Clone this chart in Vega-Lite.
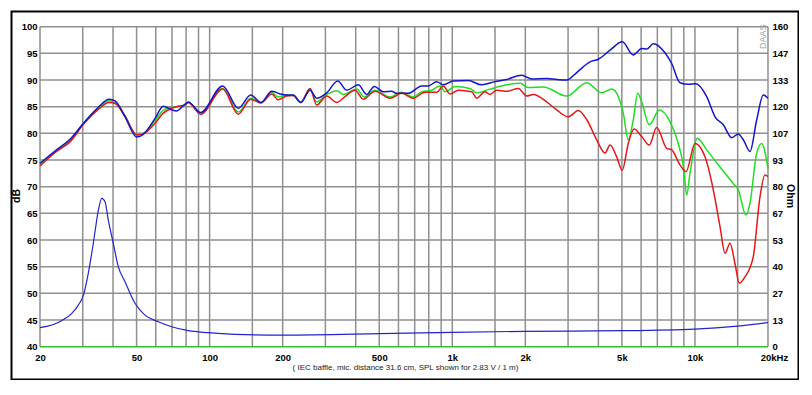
{
"$schema":"https://vega.github.io/schema/vega-lite/v6.json",
"width":787,"height":368,
"autosize":{"type":"none"},
"padding":{"left":11.5,"top":11.5,"right":0,"bottom":0},
"background":"white",
"config":{"view":{"stroke":"#000000","strokeWidth":2},"font":"Liberation Sans","axis":{"grid":false,"domain":false,"ticks":false}},
"datasets":{
"spl":[
{"s":"green","f":20,"db":74.2},{"s":"green","f":23.4,"db":76.7},{"s":"green","f":26.6,"db":78.6},{"s":"green","f":30.2,"db":81.9},{"s":"green","f":34.8,"db":84.7},{"s":"green","f":38.5,"db":86.1},{"s":"green","f":40.8,"db":85.8},{"s":"green","f":44.8,"db":83.3},{"s":"green","f":50.1,"db":79.7},{"s":"green","f":53.3,"db":80.0},{"s":"green","f":59.6,"db":82.4},{"s":"green","f":64.4,"db":84.3},{"s":"green","f":69.8,"db":84.9},{"s":"green","f":73.2,"db":85.0},{"s":"green","f":79.2,"db":85.4},{"s":"green","f":81.7,"db":85.8},{"s":"green","f":91.9,"db":83.8},{"s":"green","f":113.2,"db":88.4},{"s":"green","f":131.3,"db":84.0},{"s":"green","f":147.7,"db":86.6},{"s":"green","f":162.8,"db":85.8},{"s":"green","f":180.3,"db":87.7},{"s":"green","f":191.4,"db":86.8},{"s":"green","f":207.8,"db":87.2},{"s":"green","f":221.2,"db":87.1},{"s":"green","f":237.4,"db":85.8},{"s":"green","f":259.3,"db":88.3},{"s":"green","f":276.2,"db":85.9},{"s":"green","f":303.8,"db":87.3},{"s":"green","f":335,"db":88.0},{"s":"green","f":355.6,"db":87.3},{"s":"green","f":403.8,"db":88.3},{"s":"green","f":434,"db":86.8},{"s":"green","f":480.4,"db":88.1},{"s":"green","f":553.8,"db":86.8},{"s":"green","f":618.8,"db":87.7},{"s":"green","f":690.8,"db":86.8},{"s":"green","f":748.2,"db":87.8},{"s":"green","f":822.6,"db":88.1},{"s":"green","f":890,"db":88.9},{"s":"green","f":933.2,"db":87.8},{"s":"green","f":1026,"db":88.8},{"s":"green","f":1183,"db":88.4},{"s":"green","f":1261,"db":87.6},{"s":"green","f":1430,"db":88.3},{"s":"green","f":1676,"db":89.1},{"s":"green","f":1901,"db":89.4},{"s":"green","f":2056,"db":88.6},{"s":"green","f":2372,"db":88.7},{"s":"green","f":2962,"db":87.0},{"s":"green","f":3580,"db":89.5},{"s":"green","f":4128,"db":87.6},{"s":"green","f":4540,"db":88.3},{"s":"green","f":4760,"db":87.5},{"s":"green","f":5066,"db":83.8},{"s":"green","f":5312,"db":78.8},{"s":"green","f":5570,"db":82.5},{"s":"green","f":5808,"db":87.5},{"s":"green","f":6032,"db":85.9},{"s":"green","f":6484,"db":81.6},{"s":"green","f":7130,"db":84.4},{"s":"green","f":7892,"db":82.2},{"s":"green","f":8538,"db":78.1},{"s":"green","f":9012,"db":73.1},{"s":"green","f":9246,"db":68.4},{"s":"green","f":9540,"db":72.5},{"s":"green","f":10228,"db":79.1},{"s":"green","f":11180,"db":76.9},{"s":"green","f":12686,"db":73.7},{"s":"green","f":14390,"db":70.6},{"s":"green","f":15088,"db":69.4},{"s":"green","f":16230,"db":64.7},{"s":"green","f":16860,"db":66.9},{"s":"green","f":17966,"db":76.3},{"s":"green","f":18838,"db":78.1},{"s":"green","f":20000,"db":73.4},
{"s":"red","f":20,"db":73.9},{"s":"red","f":23.4,"db":76.6},{"s":"red","f":26.6,"db":78.4},{"s":"red","f":30.2,"db":81.7},{"s":"red","f":34.8,"db":84.5},{"s":"red","f":38.5,"db":85.8},{"s":"red","f":40.8,"db":85.6},{"s":"red","f":44.8,"db":83.2},{"s":"red","f":50.1,"db":79.7},{"s":"red","f":53.3,"db":79.9},{"s":"red","f":59.6,"db":81.9},{"s":"red","f":64.4,"db":83.8},{"s":"red","f":69.8,"db":84.7},{"s":"red","f":73.2,"db":85.0},{"s":"red","f":79.2,"db":85.3},{"s":"red","f":81.7,"db":85.8},{"s":"red","f":91.9,"db":83.6},{"s":"red","f":113.2,"db":88.3},{"s":"red","f":131.3,"db":83.6},{"s":"red","f":147.7,"db":86.4},{"s":"red","f":162.8,"db":85.7},{"s":"red","f":180.3,"db":87.4},{"s":"red","f":191.4,"db":86.3},{"s":"red","f":207.8,"db":87.0},{"s":"red","f":221.2,"db":87.1},{"s":"red","f":237.4,"db":85.8},{"s":"red","f":259.3,"db":88.4},{"s":"red","f":276.2,"db":85.3},{"s":"red","f":303.8,"db":87.0},{"s":"red","f":334,"db":85.8},{"s":"red","f":361.4,"db":86.9},{"s":"red","f":397.3,"db":88.1},{"s":"red","f":429.8,"db":86.4},{"s":"red","f":480.4,"db":87.9},{"s":"red","f":553.8,"db":86.6},{"s":"red","f":618.8,"db":87.5},{"s":"red","f":690.8,"db":86.6},{"s":"red","f":772,"db":87.7},{"s":"red","f":862.6,"db":87.7},{"s":"red","f":918.2,"db":88.9},{"s":"red","f":978.4,"db":87.4},{"s":"red","f":1058.6,"db":88.1},{"s":"red","f":1202,"db":87.8},{"s":"red","f":1261,"db":86.6},{"s":"red","f":1364,"db":87.8},{"s":"red","f":1430,"db":87.3},{"s":"red","f":1524,"db":88.1},{"s":"red","f":1676,"db":87.9},{"s":"red","f":1871,"db":88.4},{"s":"red","f":2026,"db":87.0},{"s":"red","f":2157,"db":87.3},{"s":"red","f":2449,"db":85.9},{"s":"red","f":2694,"db":84.4},{"s":"red","f":3008,"db":83.1},{"s":"red","f":3306,"db":84.3},{"s":"red","f":3580,"db":82.6},{"s":"red","f":3937,"db":78.8},{"s":"red","f":4260,"db":76.3},{"s":"red","f":4468,"db":77.8},{"s":"red","f":4760,"db":75.6},{"s":"red","f":5018,"db":73.1},{"s":"red","f":5312,"db":78.1},{"s":"red","f":5608,"db":80.8},{"s":"red","f":6032,"db":79.4},{"s":"red","f":6484,"db":77.8},{"s":"red","f":6956,"db":81.1},{"s":"red","f":7648,"db":77.2},{"s":"red","f":8020,"db":76.9},{"s":"red","f":8676,"db":74.1},{"s":"red","f":9186,"db":72.8},{"s":"red","f":10006,"db":78.1},{"s":"red","f":11002,"db":75.6},{"s":"red","f":11904,"db":69.4},{"s":"red","f":12686,"db":62.5},{"s":"red","f":13302,"db":57.5},{"s":"red","f":13948,"db":59.4},{"s":"red","f":14622,"db":55.6},{"s":"red","f":15232,"db":51.9},{"s":"red","f":16078,"db":53.1},{"s":"red","f":17396,"db":56.9},{"s":"red","f":18536,"db":68.1},{"s":"red","f":19436,"db":72.2},{"s":"red","f":20000,"db":71.9},
{"s":"blue","f":20,"db":74.4},{"s":"blue","f":23.4,"db":76.9},{"s":"blue","f":26.6,"db":78.9},{"s":"blue","f":30.2,"db":81.9},{"s":"blue","f":34.8,"db":84.9},{"s":"blue","f":38.5,"db":86.4},{"s":"blue","f":40.8,"db":86.1},{"s":"blue","f":44.8,"db":83.1},{"s":"blue","f":50.1,"db":79.3},{"s":"blue","f":53.3,"db":79.8},{"s":"blue","f":59.6,"db":82.8},{"s":"blue","f":64.4,"db":85.1},{"s":"blue","f":69.8,"db":84.4},{"s":"blue","f":73.2,"db":84.2},{"s":"blue","f":79.2,"db":85.5},{"s":"blue","f":81.7,"db":85.9},{"s":"blue","f":91.9,"db":83.9},{"s":"blue","f":113.2,"db":88.9},{"s":"blue","f":131.3,"db":84.7},{"s":"blue","f":147.7,"db":87.2},{"s":"blue","f":162.8,"db":85.8},{"s":"blue","f":180.3,"db":87.9},{"s":"blue","f":195,"db":87.4},{"s":"blue","f":207.8,"db":87.2},{"s":"blue","f":221.2,"db":87.2},{"s":"blue","f":237.4,"db":85.8},{"s":"blue","f":259.3,"db":88.1},{"s":"blue","f":276.2,"db":86.6},{"s":"blue","f":303.8,"db":87.6},{"s":"blue","f":337.3,"db":89.8},{"s":"blue","f":367.2,"db":88.1},{"s":"blue","f":410,"db":89.1},{"s":"blue","f":444,"db":87.3},{"s":"blue","f":477.2,"db":88.8},{"s":"blue","f":519.6,"db":87.8},{"s":"blue","f":562.8,"db":87.9},{"s":"blue","f":590.2,"db":87.5},{"s":"blue","f":658.8,"db":87.5},{"s":"blue","f":748.2,"db":88.9},{"s":"blue","f":796.4,"db":88.9},{"s":"blue","f":862.6,"db":89.7},{"s":"blue","f":918.2,"db":89.1},{"s":"blue","f":1009.6,"db":89.8},{"s":"blue","f":1164,"db":89.9},{"s":"blue","f":1322,"db":89.1},{"s":"blue","f":1500,"db":89.7},{"s":"blue","f":1676,"db":90.1},{"s":"blue","f":1932,"db":90.9},{"s":"blue","f":2124,"db":90.2},{"s":"blue","f":2449,"db":90.3},{"s":"blue","f":2694,"db":90.1},{"s":"blue","f":2962,"db":90.0},{"s":"blue","f":3256,"db":91.4},{"s":"blue","f":3694,"db":93.4},{"s":"blue","f":3996,"db":93.9},{"s":"blue","f":4468,"db":95.6},{"s":"blue","f":5018,"db":97.2},{"s":"blue","f":5570,"db":94.7},{"s":"blue","f":6032,"db":95.9},{"s":"blue","f":6326,"db":95.8},{"s":"blue","f":6736,"db":96.8},{"s":"blue","f":7526,"db":95.1},{"s":"blue","f":8020,"db":93.1},{"s":"blue","f":8676,"db":89.5},{"s":"blue","f":9386,"db":89.2},{"s":"blue","f":10074,"db":89.3},{"s":"blue","f":11180,"db":86.9},{"s":"blue","f":12098,"db":83.1},{"s":"blue","f":13090,"db":81.6},{"s":"blue","f":14174,"db":79.2},{"s":"blue","f":15088,"db":79.9},{"s":"blue","f":15822,"db":78.8},{"s":"blue","f":16860,"db":76.6},{"s":"blue","f":17966,"db":82.5},{"s":"blue","f":19126,"db":87.2},{"s":"blue","f":20000,"db":86.6}],
"imp":[{"f":20,"ohm":9.5},{"f":24.57,"ohm":13.0},{"f":27.04,"ohm":16.7},{"f":28.77,"ohm":20.8},{"f":30.2,"ohm":25.8},{"f":31.62,"ohm":36.7},{"f":33.17,"ohm":51.7},{"f":34.8,"ohm":68.3},{"f":35.93,"ohm":74.2},{"f":37.07,"ohm":72.5},{"f":38.24,"ohm":63.3},{"f":40.09,"ohm":51.7},{"f":42.04,"ohm":40},{"f":44.8,"ohm":32.5},{"f":49.26,"ohm":21.7},{"f":54.17,"ohm":15.8},{"f":61.43,"ohm":12.5},{"f":69.8,"ohm":10},{"f":81.7,"ohm":8},{"f":98.6,"ohm":7},{"f":127.2,"ohm":6.2},{"f":200,"ohm":5.8},{"f":500,"ohm":6.5},{"f":1000,"ohm":7.2},{"f":2000,"ohm":7.7},{"f":5000,"ohm":8},{"f":10000,"ohm":8.8},{"f":15000,"ohm":10.3},{"f":20000,"ohm":12}],
"vgrid":[{"f":20,"db":40,"db2":100},{"f":30,"db":40,"db2":100},{"f":40,"db":40,"db2":100},{"f":50,"db":40,"db2":100},{"f":60,"db":40,"db2":100},{"f":70,"db":40,"db2":100},{"f":80,"db":40,"db2":100},{"f":90,"db":40,"db2":100},{"f":100,"db":40,"db2":100},{"f":150,"db":40,"db2":100},{"f":200,"db":40,"db2":100},{"f":300,"db":40,"db2":100},{"f":400,"db":40,"db2":100},{"f":500,"db":40,"db2":100},{"f":600,"db":40,"db2":100},{"f":700,"db":40,"db2":100},{"f":800,"db":40,"db2":100},{"f":900,"db":40,"db2":100},{"f":1000,"db":40,"db2":100},{"f":1500,"db":40,"db2":100},{"f":2000,"db":40,"db2":100},{"f":3000,"db":40,"db2":100},{"f":4000,"db":40,"db2":100},{"f":5000,"db":40,"db2":100},{"f":6000,"db":40,"db2":100},{"f":7000,"db":40,"db2":100},{"f":8000,"db":40,"db2":100},{"f":9000,"db":40,"db2":100},{"f":10000,"db":40,"db2":100},{"f":15000,"db":40,"db2":100},{"f":20000,"db":40,"db2":100}],
"hgrid":[{"db":45,"f":20,"f2":20000},{"db":50,"f":20,"f2":20000},{"db":55,"f":20,"f2":20000},{"db":60,"f":20,"f2":20000},{"db":65,"f":20,"f2":20000},{"db":70,"f":20,"f2":20000},{"db":75,"f":20,"f2":20000},{"db":80,"f":20,"f2":20000},{"db":85,"f":20,"f2":20000},{"db":90,"f":20,"f2":20000},{"db":95,"f":20,"f2":20000},{"db":100,"f":20,"f2":20000}],
"base":[{"db":40,"f":20,"f2":20000}],
"mark":[{"db":98.1,"f":19074,"t":"DAAS"}]
},
"encoding":{
"x":{"field":"f","type":"quantitative","scale":{"type":"log","domain":[15.26,26716],"nice":false},
"axis":{"orient":"bottom","offset":-32.8,"values":[20,50,100,200,500,1000,2000,5000,10000,20000],
"labelExpr":"datum.value == 20000 ? '20kHz' : (datum.value >= 1000 ? (datum.value/1000) + 'k' : '' + datum.value)",
"labelFontWeight":"bold","labelFontSize":9.5,"labelColor":"#000000","labelPadding":6,"labelOverlap":false,"labelBound":false,"labelFlush":false,
"labelOffset":{"condition":{"test":"datum.value == 20000","value":6},"value":0},
"title":"( IEC baffle, mic. distance 31.6 cm, SPL shown for 2.83 V / 1 m)","titleFontSize":8,"titleFontWeight":"normal","titleColor":"#222222","titlePadding":1}}
},
"layer":[
{"encoding":{
"y":{"field":"db","type":"quantitative","scale":{"domain":[33.85,102.85],"nice":false,"zero":false},
"axis":{"orient":"left","offset":-28.5,"values":[40,45,50,55,60,65,70,75,80,85,90,95,100],"labelFontWeight":"bold","labelFontSize":9.5,"labelColor":"#000000","labelPadding":3,"labelOverlap":false,"labelBound":false,"labelFlush":false,
"title":"dB","titleFontSize":10.5,"titleFontWeight":"bold","titleColor":"#000000","titlePadding":0}}},
"layer":[
{"data":{"name":"vgrid"},"mark":{"type":"rule","color":"#8f8f8f","strokeWidth":1.5},"encoding":{"y2":{"field":"db2"}}},
{"data":{"name":"hgrid"},"mark":{"type":"rule","color":"#8f8f8f","strokeWidth":1.5},"encoding":{"x2":{"field":"f2"}}},
{"data":{"name":"base"},"mark":{"type":"rule","color":"#33bb33","strokeWidth":1.5},"encoding":{"x2":{"field":"f2"}}},
{"data":{"name":"spl"},"mark":{"type":"line","interpolate":"monotone","strokeWidth":1.5},
"encoding":{"color":{"field":"s","type":"nominal","scale":{"domain":["green","red","blue"],"range":["#22dd22","#e41818","#1414cc"]},"legend":null}}},
{"data":{"name":"mark"},"mark":{"type":"text","angle":270,"fontSize":9,"color":"#a0a0a0","align":"center","baseline":"middle"},
"encoding":{"text":{"field":"t"}}}
]},
{"data":{"name":"imp"},"mark":{"type":"line","interpolate":"monotone","color":"#2424c8","strokeWidth":1.2},
"encoding":{
"y":{"field":"ohm","type":"quantitative","scale":{"domain":[-16.4,167.6],"nice":false,"zero":false},
"axis":{"orient":"right","offset":-30.5,"values":[0,13.333,26.667,40,53.333,66.667,80,93.333,106.667,120,133.333,146.667,160],"format":".0f","labelFontWeight":"bold","labelFontSize":9.5,"labelColor":"#000000","labelPadding":4,"labelOverlap":false,"labelBound":false,"labelFlush":false,
"title":"Ohm","titleFontSize":10.5,"titleFontWeight":"bold","titleColor":"#000000","titlePadding":-3}}}}
],
"resolve":{"scale":{"y":"independent"},"axis":{"y":"independent"}}
}
